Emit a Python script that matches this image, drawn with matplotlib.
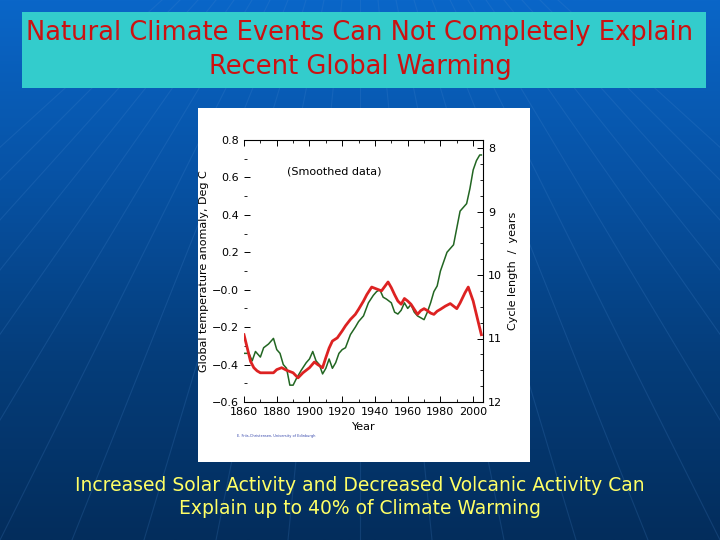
import numpy as np
import matplotlib
matplotlib.use("Agg")
from matplotlib import pyplot as plt

# global temperature anomaly (smoothed), deg C
temp_years = [1860, 1863, 1865, 1867, 1870, 1872, 1875, 1878, 1880, 1882, 1884, 1886,
              1888, 1890, 1892, 1895, 1898, 1900, 1902, 1904, 1906, 1908, 1910, 1912,
              1914, 1916, 1918, 1920, 1922, 1925, 1928, 1930, 1933, 1936, 1939, 1941,
              1943, 1945, 1947, 1950, 1952, 1954, 1956, 1958, 1960, 1962, 1964, 1966,
              1968, 1970, 1972, 1974, 1976, 1978, 1980, 1982, 1984, 1986, 1988, 1990,
              1992, 1994, 1996, 1998, 2000, 2002, 2004, 2005]
temp_anom = [-0.34, -0.34, -0.38, -0.33, -0.36, -0.31, -0.29, -0.26, -0.32, -0.34, -0.40, -0.42,
             -0.51, -0.51, -0.475, -0.43, -0.39, -0.37, -0.33, -0.38, -0.40, -0.45, -0.42, -0.37,
             -0.42, -0.39, -0.34, -0.32, -0.31, -0.24, -0.20, -0.17, -0.14, -0.07, -0.03, -0.01,
             0.00, -0.04, -0.05, -0.07, -0.12, -0.13, -0.11, -0.07, -0.10, -0.08, -0.12, -0.14,
             -0.15, -0.16, -0.12, -0.07, -0.01, 0.02, 0.10, 0.15, 0.20, 0.22, 0.24, 0.33,
             0.42, 0.44, 0.46, 0.54, 0.64, 0.69, 0.72, 0.72]

# solar cycle length, years
cycle_years = [1860, 1862, 1864, 1866, 1868, 1870, 1875, 1878, 1880, 1883, 1886, 1890,
               1893, 1896, 1900, 1903, 1905, 1908, 1910, 1912, 1914, 1917, 1920, 1922,
               1925, 1928, 1930, 1933, 1935, 1938, 1940, 1942, 1944, 1946, 1948, 1950,
               1952, 1954, 1956, 1958, 1960, 1962, 1964, 1966, 1968, 1970, 1972, 1974,
               1976, 1978, 1980, 1983, 1986, 1988, 1990, 1992, 1995, 1997, 2000, 2003, 2005]
cycle_len = [10.94, 11.15, 11.36, 11.46, 11.51, 11.54, 11.54, 11.54, 11.49, 11.46, 11.50, 11.54,
             11.62, 11.54, 11.46, 11.37, 11.41, 11.46, 11.30, 11.15, 11.04, 10.99, 10.88, 10.80,
             10.70, 10.62, 10.54, 10.41, 10.31, 10.19, 10.21, 10.23, 10.25, 10.18, 10.11, 10.20,
             10.31, 10.41, 10.46, 10.37, 10.41, 10.46, 10.54, 10.62, 10.56, 10.53, 10.56, 10.60,
             10.62, 10.57, 10.54, 10.49, 10.45, 10.49, 10.53, 10.44, 10.28, 10.19, 10.41, 10.73, 10.94]

x_ticks = [1860, 1880, 1900, 1920, 1940, 1960, 1980, 2000]
left_ticks = [0.8, 0.6, 0.4, 0.2, 0.0, -0.2, -0.4, -0.6]
left_labels = ["0.8", "0.6", "0.4", "0.2", "\u22120.0", "\u22120.2", "\u22120.4", "\u22120.6"]
right_ticks = [8, 9, 10, 11, 12]

title_lines = "Natural Climate Events Can Not Completely Explain\nRecent Global Warming"
bottom_lines = ("Increased Solar Activity and Decreased Volcanic Activity Can\n"
                "Explain up to 40% of Climate Warming")

fig = plt.figure(figsize=(7.2, 5.4), dpi=100)

# slide background: blue gradient with faint radiating lines
bg = fig.add_axes([0, 0, 1, 1])
grad = np.linspace(0, 1, 256).reshape(-1, 1)
cmap = matplotlib.colors.LinearSegmentedColormap.from_list(
    "slide", ["#0a66c8", "#0752a4", "#053d7a", "#032d5c"])
bg.imshow(grad, aspect="auto", cmap=cmap, extent=[0, 1, 0, 1], origin="upper")
for x0 in np.linspace(-0.6, 1.6, 23):
    bg.plot([0.5 + (x0 - 0.5) * 0.25, x0], [1.0, 0.0], color="#4a8ad0", lw=0.8, alpha=0.2)
bg.set_xlim(0, 1)
bg.set_ylim(0, 1)
bg.axis("off")

# title box
fig.patches.append(plt.Rectangle((22 / 720, 1 - 88 / 540), 684 / 720, 76 / 540,
                                 transform=fig.transFigure, facecolor="#33cccc",
                                 edgecolor="none", zorder=1))
fig.text(0.5, 1 - 50 / 540, title_lines, ha="center", va="center", color="#cc1111",
         fontsize=18.5, linespacing=1.35, zorder=2)

# white chart panel
fig.patches.append(plt.Rectangle((198 / 720, 1 - 462 / 540), 332 / 720, 354 / 540,
                                 transform=fig.transFigure, facecolor="white",
                                 edgecolor="none", zorder=1))

ax = fig.add_axes([244 / 720, 1 - 402 / 540, 239 / 720, 262 / 540], zorder=3)
ax.patch.set_alpha(0)
ax.plot(temp_years, temp_anom, color="#226622", lw=1.1)
ax.set_xlim(1860, 2006)
ax.set_ylim(-0.6, 0.8)
ax.set_xticks(x_ticks)
ax.set_xticks(np.arange(1860, 2006, 10), minor=True)
ax.set_yticks(left_ticks)
ax.set_yticklabels(left_labels)
ax.set_yticks(np.arange(-0.6, 0.81, 0.1), minor=True)
ax.tick_params(axis="both", direction="in", labelsize=8, length=4, width=0.7, top=True)
ax.tick_params(which="minor", direction="in", length=2, width=0.6, top=True)
ax.spines["left"].set_visible(False)
ax.spines["right"].set_visible(False)
for s in ["top", "bottom"]:
    ax.spines[s].set_linewidth(0.8)
ax.set_ylabel("Global temperature anomaly, Deg C", fontsize=8, labelpad=2)
ax.set_xlabel("Year", fontsize=8, labelpad=4)
ax.text(0.18, 0.87, "(Smoothed data)", transform=ax.transAxes, fontsize=8)
ax.text(-0.03, -0.135, "E. Friis-Christensen, University of Edinburgh", transform=ax.transAxes,
        fontsize=2.5, color="#3344aa")

ax2 = ax.twinx()
ax2.plot(cycle_years, cycle_len, color="#dd2222", lw=2.0)
ax2.set_ylim(12, 12 - 262 / 63.5)
ax2.set_yticks(right_ticks)
ax2.set_yticks(np.arange(8, 12.01, 0.25), minor=True)
ax2.tick_params(axis="y", direction="in", labelsize=8, length=4, width=0.7)
ax2.tick_params(axis="y", which="minor", direction="in", length=2, width=0.6)
for s in ["left", "top", "bottom"]:
    ax2.spines[s].set_visible(False)
ax2.spines["right"].set_linewidth(0.8)
ax2.set_ylabel("Cycle length  /  years", fontsize=8, labelpad=4)

fig.text(0.5, 1 - 497 / 540, bottom_lines, ha="center", va="center", color="#ffff66",
         fontsize=13.5, linespacing=1.25, zorder=2)

fig.savefig("out.png", dpi=100)
